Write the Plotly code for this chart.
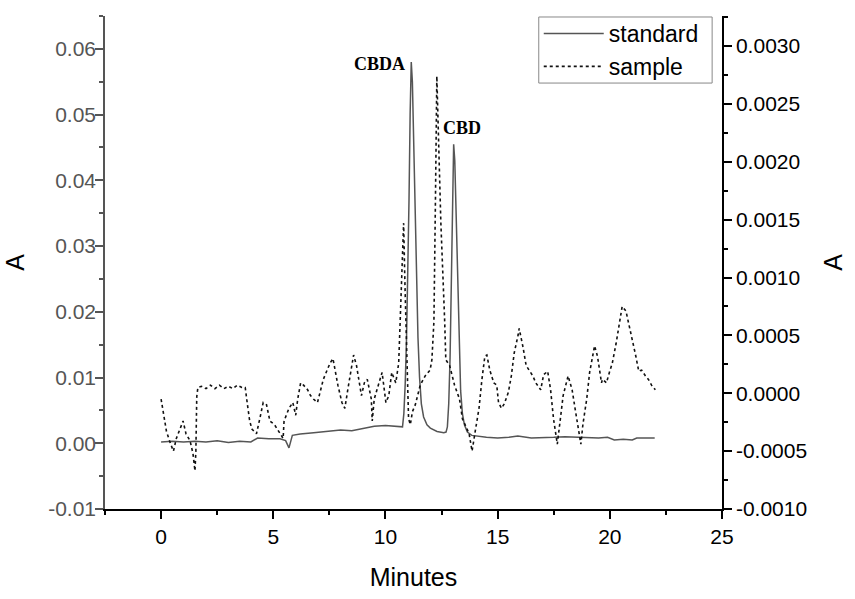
import plotly.graph_objects as go

# ---- data ----
standard_time = [0.0, 0.5, 1.0, 1.5, 2.0, 2.5, 3.0, 3.5, 4.0, 4.3, 4.8, 5.3, 5.55, 5.7, 5.85,
                 6.2, 6.8, 7.5, 8.0, 8.5, 9.0, 9.5, 10.0, 10.4, 10.7, 10.76, 10.82, 10.88,
                 10.94, 11.0, 11.05, 11.1, 11.15, 11.2, 11.26, 11.32, 11.38, 11.45, 11.52,
                 11.6, 11.7, 11.85, 12.0, 12.3, 12.6, 12.7, 12.76, 12.82, 12.88, 12.94, 12.99,
                 13.04, 13.09, 13.15, 13.21, 13.28, 13.35, 13.43, 13.52, 13.65, 13.85, 14.5,
                 15.0, 15.5, 15.9, 16.5, 17.0, 17.5, 18.0, 18.5, 19.0, 19.5, 19.9, 20.2, 20.6,
                 21.0, 21.2, 22.0]
standard_abs = [0.0002, 0.0003, 0.0002, 0.0003, 0.0002, 0.0004, 0.0001, 0.0003, 0.0002, 0.0008,
                0.0007, 0.0007, 0.0004, -0.0007, 0.0012, 0.0014, 0.0016, 0.0018, 0.0020, 0.0019,
                0.0022, 0.0026, 0.0027, 0.0026, 0.0026, 0.0025, 0.0045, 0.009, 0.016, 0.026,
                0.037, 0.05, 0.058, 0.055, 0.046, 0.035, 0.025, 0.016, 0.01, 0.006, 0.004,
                0.0028, 0.0023, 0.0018, 0.0016, 0.0017, 0.0025, 0.006, 0.013, 0.025, 0.037,
                0.0455, 0.043, 0.034, 0.024, 0.014, 0.008, 0.0045, 0.0028, 0.0017, 0.0012,
                0.0009, 0.0008, 0.0009, 0.0011, 0.0008, 0.0008, 0.0009, 0.0010, 0.0009, 0.0009,
                0.0008, 0.0009, 0.0005, 0.0006, 0.0005, 0.0008, 0.0008]

sample_time = [0.0, 0.11, 0.24, 0.41, 0.55, 0.68, 0.85, 0.98, 1.11, 1.29, 1.42, 1.51, 1.55,
               1.59, 1.64, 1.8, 2.0, 2.2, 2.4, 2.6, 2.8, 3.0, 3.2, 3.4, 3.6, 3.75, 3.85, 3.95,
               4.05, 4.25, 4.4, 4.55, 4.7, 4.85, 5.05, 5.26, 5.44, 5.48, 5.7, 5.87, 6.0, 6.09,
               6.22, 6.35, 6.53, 6.66, 6.79, 6.97, 7.1, 7.23, 7.4, 7.53, 7.66, 7.75, 7.88, 8.06,
               8.19, 8.32, 8.49, 8.58, 8.71, 8.84, 8.93, 9.06, 9.19, 9.37, 9.41, 9.5, 9.72,
               9.85, 10.02, 10.15, 10.28, 10.46, 10.59, 10.63, 10.72, 10.81, 10.87, 10.94,
               11.03, 11.11, 11.2, 11.33, 11.55, 11.77, 11.99, 12.07, 12.16, 12.23, 12.29,
               12.38, 12.47, 12.64, 12.69, 12.86, 13.08, 13.3, 13.43, 13.73, 13.86, 14.0,
               14.17, 14.3, 14.43, 14.52, 14.65, 14.83, 14.96, 15.04, 15.17, 15.3, 15.48,
               15.61, 15.74, 15.92, 15.96, 16.13, 16.27, 16.4, 16.57, 16.7, 16.92, 17.05,
               17.23, 17.36, 17.49, 17.66, 17.79, 17.92, 18.14, 18.32, 18.45, 18.58, 18.71,
               18.8, 18.97, 19.1, 19.24, 19.32, 19.45, 19.54, 19.63, 19.67, 19.85, 19.98,
               20.11, 20.28, 20.41, 20.55, 20.72, 20.85, 20.98, 21.16, 21.29, 21.42, 21.59,
               21.72, 21.86, 22.03]
sample_abs = [-0.00005, -0.00019, -0.00033, -0.00043, -0.0005, -0.00039, -0.00031, -0.00024,
              -0.00035, -0.00041, -0.00052, -0.00067, -0.0005, -0.00003, 0.00005, 0.00006,
              0.00004, 0.00007, 0.00004, 0.00007, 0.00004, 0.00006, 0.00004, 0.00007, 0.00005,
              0.00005, -0.0001, -0.00024, -0.00031, -0.00035, -0.00022, -0.00008, -0.0001,
              -0.00024, -0.00027, -0.00033, -0.00039, -0.00024, -0.00013, -0.00008, -0.00019,
              -0.00005, 0.00009, 0.00007, 0.00003, -0.00002, -0.00005, -0.00008, 0.00001,
              0.00012, 0.0002, 0.00026, 0.0003, 0.0002, 0.00007, -0.00008, -0.00013, 0.00003,
              0.00024, 0.00033, 0.00024, 0.00007, -0.00002, 0.00009, 0.00012, -0.00005,
              -0.00024, -0.00005, 0.00009, 0.00018, -0.00008, -0.00002, 0.00018, 0.00009,
              0.00026, 0.00051, 0.001, 0.00147, 0.00093, 0.00035, -0.00022, -0.00027,
              -0.00016, -0.0001, 0.00007, 0.00015, 0.0002, 0.00029, 0.00062, 0.0017, 0.00274,
              0.0021, 0.00147, 0.00062, 0.00029, 0.00024, 0.00007, -0.00005, -0.00022,
              -0.00035, -0.0005, -0.00033, -0.00013, 0.00012, 0.00032, 0.00033, 0.0002,
              0.00009, 0.00007, -0.00008, -0.00013, -0.00009, 0.00001, 0.00015, 0.00035,
              0.00051, 0.00056, 0.0004, 0.00024, 0.0002, 0.00015, 0.00009, 0.00003, 0.00016,
              0.00019, 0.00003, -0.00022, -0.00044, -0.00024, -0.00002, 0.00015, 0.00003,
              -0.00013, -0.00027, -0.00044, -0.00027, -0.00005, 0.00018, 0.00035, 0.00041,
              0.00032, 0.00018, 0.00009, 0.00012, 0.00009, 0.00018, 0.00026, 0.00043, 0.0006,
              0.00075, 0.00071, 0.0006, 0.00049, 0.00032, 0.00019, 0.0002, 0.00015, 0.00012,
              0.00007, 0.00003]

x_ticks = [0, 5, 10, 15, 20, 25]
left_ticks = [-0.01, 0.00, 0.01, 0.02, 0.03, 0.04, 0.05, 0.06]
left_tick_text = ["-0.01", "0.00", "0.01", "0.02", "0.03", "0.04", "0.05", "0.06"]
right_ticks = [-0.0010, -0.0005, 0.0000, 0.0005, 0.0010, 0.0015, 0.0020, 0.0025, 0.0030]
right_tick_text = ["-0.0010", "-0.0005", "0.0000", "0.0005", "0.0010", "0.0015", "0.0020",
                   "0.0025", "0.0030"]
peak_labels = ["CBDA", "CBD"]
peak_label_pos = [(10.96, 0.0577), (12.47, 0.048)]

FONT = "Liberation Sans, Arial, sans-serif"
SERIF = "Liberation Serif, Times New Roman, serif"

fig = go.Figure()
fig.add_trace(go.Scatter(x=standard_time, y=standard_abs, mode="lines", name="standard",
                         line=dict(color="#555555", width=1.5), yaxis="y"))
fig.add_trace(go.Scatter(x=sample_time, y=sample_abs, mode="lines", name="sample",
                         line=dict(color="#111111", width=1.6, dash="dot"), yaxis="y2"))

fig.add_annotation(x=peak_label_pos[0][0], y=peak_label_pos[0][1], xref="x", yref="y",
                   text="<b>" + peak_labels[0] + "</b>", showarrow=False, xanchor="right",
                   font=dict(family=SERIF, size=18, color="black"))
fig.add_annotation(x=peak_label_pos[1][0], y=peak_label_pos[1][1], xref="x", yref="y",
                   text="<b>" + peak_labels[1] + "</b>", showarrow=False, xanchor="left",
                   font=dict(family=SERIF, size=18, color="black"))

# legend frame
fig.add_shape(type="rect", xref="paper", yref="paper", x0=0.703, x1=0.984, y0=0.864, y1=0.998,
              line=dict(color="#888888", width=1), fillcolor="rgba(0,0,0,0)", layer="above")

fig.update_layout(
    width=855, height=599,
    margin=dict(l=105, r=120, t=14, b=78),
    paper_bgcolor="white", plot_bgcolor="white",
    font=dict(family=FONT, color="black"),
    showlegend=True,
    legend=dict(x=0.703, y=1.008, xanchor="left", yanchor="top",
                borderwidth=0, bgcolor="rgba(0,0,0,0)",
                font=dict(size=23, family=FONT), tracegroupgap=0, itemwidth=60),
    xaxis=dict(range=[-2.5, 25], tickvals=x_ticks, ticks="outside", ticklen=8, tickwidth=1.5,
               tickcolor="black", showline=True, linecolor="black", linewidth=1.5,
               showgrid=False, zeroline=False, tickfont=dict(size=21, color="black"),
               minor=dict(dtick=2.5, ticks="outside", ticklen=4, tickcolor="black", showgrid=False),
               title=dict(text="Minutes", font=dict(size=25), standoff=22)),
    yaxis=dict(range=[-0.01, 0.065], tickvals=left_ticks, ticktext=left_tick_text,
               ticks="outside", ticklen=8, tickwidth=1.5, tickcolor="#555555",
               showline=True, linecolor="#555555", linewidth=1.5, showgrid=False, zeroline=False,
               tickfont=dict(size=21, color="#555555"), ticklabelstandoff=-5,
               minor=dict(dtick=0.005, ticks="outside", ticklen=4, tickcolor="#555555", showgrid=False),
               title=dict(text="A", font=dict(size=25), standoff=16)),
    yaxis2=dict(range=[-0.001, 0.00326], tickvals=right_ticks, ticktext=right_tick_text,
                overlaying="y", side="right", anchor="x",
                ticks="outside", ticklen=8, tickwidth=1.5, tickcolor="black",
                showline=True, linecolor="black", linewidth=1.5, showgrid=False, zeroline=False,
                tickfont=dict(size=21, color="black"),
                minor=dict(dtick=0.00025, ticks="outside", ticklen=4, tickcolor="black", showgrid=False),
                title=dict(text="A", font=dict(size=25), standoff=18)),
)

fig.write_html("out.html", config={"displayModeBar": False},
               post_script="document.body.style.margin='0';document.body.style.overflow='hidden';")
